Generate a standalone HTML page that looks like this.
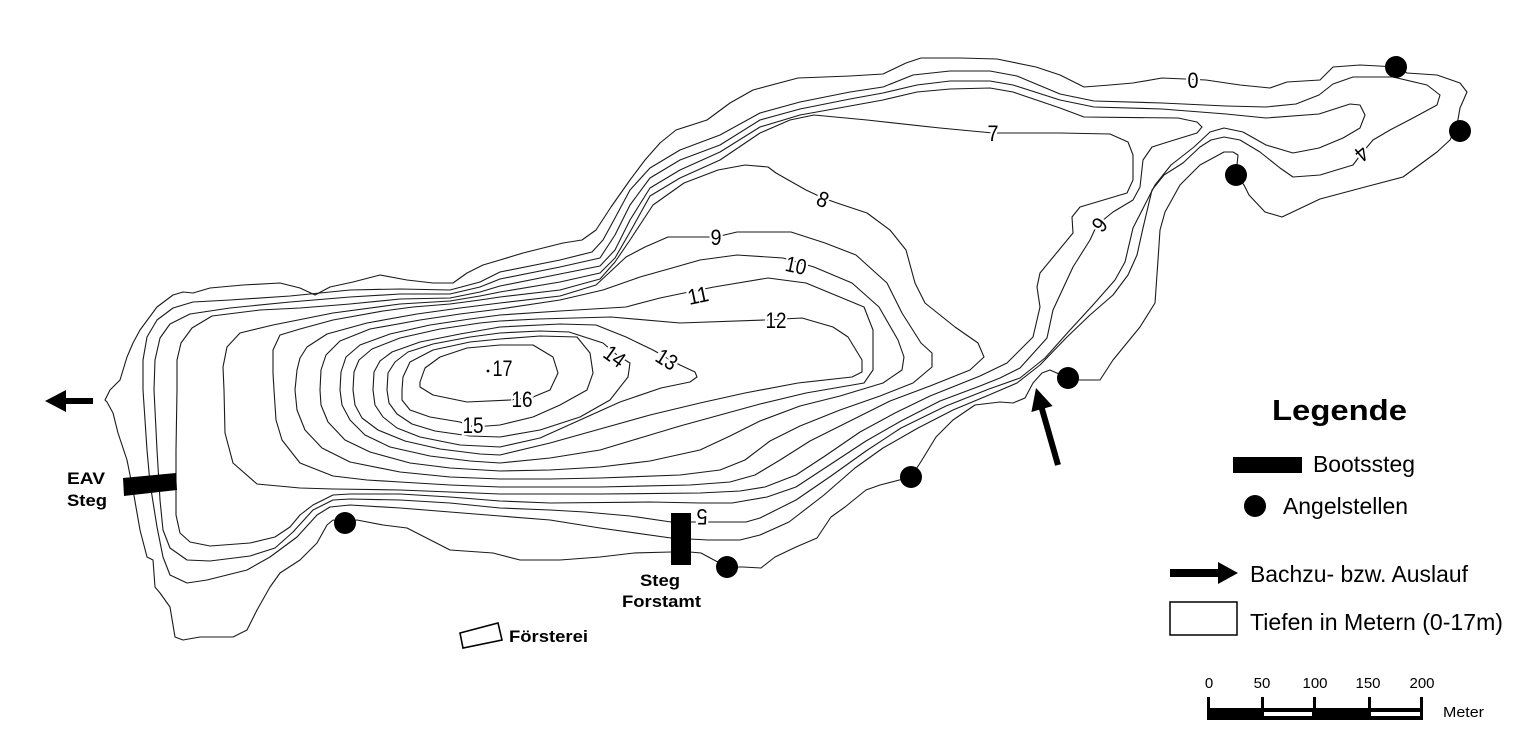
<!DOCTYPE html>
<html><head><meta charset="utf-8"><style>
html,body{margin:0;padding:0;background:#fff;}
svg{display:block;}
.c{fill:none;stroke:#1a1a1a;stroke-width:1.1;stroke-linejoin:round;}
.lb{font-family:"Liberation Sans",sans-serif;font-size:22px;fill:#000;stroke:#fff;stroke-width:5;paint-order:stroke;text-anchor:middle;}
.b{font-family:"Liberation Sans",sans-serif;font-weight:bold;font-size:17px;fill:#000;}
.lg{font-family:"Liberation Sans",sans-serif;font-size:23px;fill:#000;}
.sc{font-family:"Liberation Sans",sans-serif;font-size:15px;fill:#000;text-anchor:middle;}
</style></head><body>
<svg width="1515" height="730" viewBox="0 0 1515 730" xmlns="http://www.w3.org/2000/svg">
<rect width="1515" height="730" fill="#fff"/>
<!-- shore 0 -->
<polygon class="c" points="105,400 110,390 120,380 127,357 133,343 140,330 157,307 173,295 183,292 193,293 210,288 243,285 280,283 300,288 315,295 330,287 353,282 380,275 407,280 433,283 453,283 467,273 483,265 500,260 523,253 563,243 582,240 596,230 611,207 630,180 645,160 660,143 676,130 707,120 730,103 753,90 798,78 850,76 883,74 906,63 921,58 960,58 997,59 1036,67 1060,75 1084,87 1110,85 1133,83 1162,78 1185,79 1206,80 1240,85 1270,88 1287,82 1320,80 1333,67 1360,65 1397,67 1407,73 1437,75 1460,83 1467,92 1460,108 1457,125 1450,140 1437,152 1403,177 1365,187 1320,199 1282,217 1265,212 1249,195 1244,185 1236,175 1238,155 1233,152 1224,152 1200,165 1180,185 1165,212 1160,230 1158,260 1155,303 1140,327 1113,360 1100,380 1080,380 1068,378 1050,370 1042,373 1033,383 1025,398 1013,403 1000,402 975,405 953,420 936,437 922,460 911,477 880,485 866,490 845,507 831,517 817,538 796,547 775,557 761,568 743,567 727,567 701,553 690,552 671,552 634,553 600,557 560,560 520,560 493,553 450,550 407,528 383,525 357,520 345,522 333,520 327,525 317,543 300,560 280,573 270,587 257,610 247,630 233,637 200,637 183,640 175,637 170,607 160,593 155,587 153,560 147,557 140,530 133,490 127,460 118,433 113,413 107,402"/>
<!-- C4 -->
<polygon class="c" points="143,390 143,360 147,337 157,320 173,308 193,302 230,300 290,296 350,290 400,289 450,290 480,282 500,272 560,260 592,252 603,240 615,218 630,190 650,168 680,150 720,135 760,113 800,102 850,92 883,87 913,75 950,71 990,71 1017,76 1060,94 1094,101 1162,103 1226,106 1266,107 1296,104 1319,95 1333,84 1353,77 1393,77 1427,85 1440,95 1437,105 1413,118 1390,130 1373,140 1362,153 1353,165 1320,175 1293,177 1280,168 1260,152 1240,140 1224,137 1211,140 1200,147 1183,163 1164,175 1152,190 1143,228 1137,255 1128,275 1113,295 1090,315 1067,337 1040,365 1017,383 989,395 953,410 918,428 883,448 855,468 824,495 789,522 760,535 740,540 708,540 671,538 600,528 550,520 500,516 450,512 400,508 350,505 330,507 317,515 297,537 270,557 247,570 207,580 187,583 170,575 163,557 157,527 150,483 147,450"/>
<!-- C5 -->
<polygon class="c" points="154,390 155,360 160,338 170,324 190,314 230,308 290,302 350,297 400,294 450,294 480,287 500,279 560,267 600,258 615,235 630,205 650,178 680,160 720,145 760,120 800,109 850,99 883,93 917,85 950,81 990,81 1013,85 1060,100 1094,107 1162,109 1226,114 1266,118 1319,114 1350,104 1360,105 1365,115 1360,128 1343,138 1319,148 1293,153 1266,145 1243,132 1224,128 1210,132 1194,147 1171,165 1155,185 1133,228 1125,262 1115,280 1093,305 1070,330 1045,358 1020,378 989,389 946,406 901,428 866,451 831,476 796,500 760,518 746,522 715,522 671,522 630,516 585,512 550,510 500,508 450,503 400,500 350,499 333,500 313,510 293,532 275,548 250,556 210,561 187,560 170,548 163,530 160,500 157,450"/>
<!-- C6 -->
<polygon class="c" points="177,390 177,360 181,343 192,328 212,316 260,310 300,308 350,304 400,299 450,298 480,292 500,286 560,274 600,266 615,250 630,220 650,188 680,170 720,152 760,127 800,115 850,106 883,100 917,92 950,89 990,88 1013,92 1060,108 1084,117 1178,118 1197,122 1202,127 1197,133 1171,141 1152,147 1143,160 1140,187 1133,200 1113,212 1097,225 1090,240 1073,267 1053,310 1047,338 1020,368 1000,378 980,386 940,401 901,421 866,441 831,464 796,487 767,497 732,503 700,503 650,502 550,503 500,501 450,497 400,494 350,494 333,495 313,505 300,515 290,527 275,537 250,543 210,546 190,542 180,533 176,515 176,450"/>
<!-- C7 -->
<polygon class="c" points="224,390 223,367 227,347 240,333 273,325 333,313 400,304 450,301 480,296 500,292 560,282 600,273 615,258 630,232 650,196 680,178 720,160 760,133 790,120 814,115 867,120 940,128 993,133 1060,133 1110,134 1128,142 1133,155 1133,180 1127,193 1080,207 1072,217 1073,233 1040,273 1037,287 1040,307 1033,337 1007,363 980,376 930,396 895,413 860,432 825,456 796,475 765,487 740,491 700,493 600,494 500,494 450,492 400,490 333,489 300,488 257,484 233,463 225,433"/>
<!-- C8 -->
<polygon class="c" points="274,390 273,373 273,350 280,335 300,329 333,320 383,311 413,307 450,304 480,300 500,297 560,290 600,279 615,262 630,240 653,205 684,183 718,170 745,165 768,167 776,173 806,190 823,198 837,203 867,213 890,230 906,250 915,283 925,303 955,327 978,343 984,357 970,370 930,386 890,401 850,421 810,441 780,460 755,475 730,482 690,485 600,487 500,487 450,485 400,482 367,480 333,476 300,463 282,440 276,420"/>
<!-- C9 -->
<polygon class="c" points="295,390 297,370 300,358 307,347 327,334 367,323 417,314 460,308 500,303 560,296 596,285 610,272 626,257 645,247 668,237 716,237 737,232 791,232 825,243 856,255 887,283 902,313 921,343 932,353 932,367 913,383 880,396 840,410 800,426 770,441 745,460 720,470 680,475 600,478 550,479 500,479 450,477 400,472 350,462 322,448 305,430 297,410"/>
<!-- C10 -->
<polygon class="c" points="320,390 321,370 326,355 340,341 370,329 420,320 460,314 500,309 560,300 603,290 640,277 672,268 700,260 737,255 783,258 814,267 852,283 879,307 898,340 904,357 902,370 883,383 840,396 800,406 760,421 730,436 700,450 650,461 600,467 550,470 500,471 450,468 410,463 370,452 345,440 328,422 321,405"/>
<!-- C11 -->
<polygon class="c" points="340,390 341,372 346,357 360,345 390,334 430,325 470,319 500,315 560,311 626,307 660,298 684,293 714,287 768,278 806,283 864,307 873,330 873,370 864,383 806,393 760,404 720,415 680,426 640,438 600,450 550,458 500,463 470,461 430,456 390,447 365,435 350,420 342,405"/>
<!-- C12 -->
<polygon class="c" points="353,390 354,372 359,360 372,349 400,338 440,329 480,323 500,321 538,319 611,317 680,323 764,320 802,318 833,327 848,337 862,360 862,372 852,377 798,383 745,393 700,403 650,415 600,429 550,443 500,455 480,454 440,449 405,441 378,430 362,418 355,405"/>
<!-- C13 -->
<polygon class="c" points="373,390 374,372 380,361 392,352 420,342 460,334 500,327 560,324 596,325 626,337 653,350 667,358 680,365 695,372 697,377 690,382 661,388 620,402 580,420 540,438 500,447 460,445 420,437 397,428 383,417 375,405"/>
<!-- C14 -->
<polygon class="c" points="387,390 388,373 395,362 408,352 433,344 470,337 500,333 540,331 569,332 603,343 617,355 630,363 628,377 610,400 580,417 540,430 500,437 470,436 435,431 412,424 397,414 389,403"/>
<!-- C15 -->
<polygon class="c" points="402,390 403,377 410,362 433,350 470,342 500,339 540,336 577,337 590,353 593,373 587,390 560,405 533,417 500,425 474,427 460,422 430,417 410,410 402,400"/>
<!-- C16 -->
<polygon class="c" points="420,382 425,368 440,357 467,348 500,345 533,345 553,357 558,373 550,390 533,397 510,400 467,402 433,395 420,387"/>

<!-- contour labels -->
<text class="lb" x="1193" y="88" textLength="11" lengthAdjust="spacingAndGlyphs">0</text>
<text class="lb" x="993" y="141" textLength="11" lengthAdjust="spacingAndGlyphs">7</text>
<text class="lb" transform="translate(823,199) rotate(22)" x="0" y="8" textLength="11" lengthAdjust="spacingAndGlyphs">8</text>
<text class="lb" x="716" y="245" textLength="11" lengthAdjust="spacingAndGlyphs">9</text>
<text class="lb" transform="translate(796,265) rotate(12)" x="0" y="8" textLength="21" lengthAdjust="spacingAndGlyphs">10</text>
<text class="lb" transform="translate(698,295) rotate(-12)" x="0" y="8" textLength="21" lengthAdjust="spacingAndGlyphs">11</text>
<text class="lb" x="776" y="328" textLength="21" lengthAdjust="spacingAndGlyphs">12</text>
<text class="lb" transform="translate(667,359) rotate(32)" x="0" y="8" textLength="21" lengthAdjust="spacingAndGlyphs">13</text>
<text class="lb" transform="translate(615,356) rotate(36)" x="0" y="8" textLength="21" lengthAdjust="spacingAndGlyphs">14</text>
<text class="lb" x="473" y="433" textLength="21" lengthAdjust="spacingAndGlyphs">15</text>
<text class="lb" x="522" y="407" textLength="21" lengthAdjust="spacingAndGlyphs">16</text>
<circle cx="488" cy="371" r="1.4" fill="#000"/>
<text class="lb" x="502.5" y="376" textLength="20" lengthAdjust="spacingAndGlyphs">17</text>
<text class="lb" transform="translate(702,517) rotate(180)" x="0" y="8" textLength="11" lengthAdjust="spacingAndGlyphs">5</text>
<text class="lb" transform="translate(1100,225) rotate(130)" x="0" y="8" textLength="11" lengthAdjust="spacingAndGlyphs">6</text>
<text class="lb" transform="translate(1362,154) rotate(140)" x="0" y="8" textLength="11" lengthAdjust="spacingAndGlyphs">4</text>

<!-- fishing spots -->
<g fill="#000">
<circle cx="345" cy="523" r="11"/>
<circle cx="727" cy="567" r="11"/>
<circle cx="911" cy="477" r="11"/>
<circle cx="1068" cy="378" r="11"/>
<circle cx="1236" cy="175" r="11"/>
<circle cx="1396" cy="67" r="11"/>
<circle cx="1460" cy="131" r="11"/>
</g>

<!-- piers -->
<polygon points="123,478 176,473 177,490 124,496" fill="#000"/>
<rect x="671" y="513" width="20" height="52" fill="#000"/>
<!-- Försterei building -->
<polygon points="460,633 498,623 502,640 463,648" fill="#fff" stroke="#000" stroke-width="1.6"/>

<!-- arrows -->
<path d="M45,401 L66,390 L66,398 L93,398 L93,404 L66,404 L66,412 Z" fill="#000"/>
<path d="M1036,388 L1052.6,406 L1044.9,408.2 L1060.9,464.2 L1055.1,465.8 L1039.1,409.8 L1031.4,412 Z" fill="#000"/>

<!-- map text -->
<text class="b" x="67" y="484" textLength="38" lengthAdjust="spacingAndGlyphs">EAV</text>
<text class="b" x="67" y="506" textLength="40" lengthAdjust="spacingAndGlyphs">Steg</text>
<text class="b" x="640" y="586" textLength="40" lengthAdjust="spacingAndGlyphs">Steg</text>
<text class="b" x="622" y="607" textLength="79" lengthAdjust="spacingAndGlyphs">Forstamt</text>
<text class="b" x="509" y="642" textLength="79" lengthAdjust="spacingAndGlyphs">Försterei</text>

<!-- legend -->
<text x="1272" y="420" font-family="Liberation Sans, sans-serif" font-weight="bold" font-size="29" textLength="135" lengthAdjust="spacingAndGlyphs">Legende</text>
<rect x="1233" y="457" width="69" height="16" fill="#000"/>
<text class="lg" x="1313" y="472" textLength="102" lengthAdjust="spacingAndGlyphs">Bootssteg</text>
<circle cx="1255" cy="506" r="11" fill="#000"/>
<text class="lg" x="1283" y="514" textLength="125" lengthAdjust="spacingAndGlyphs">Angelstellen</text>
<path d="M1170,569 L1218,569 L1218,562 L1238,573 L1218,584 L1218,577 L1170,577 Z" fill="#000"/>
<text class="lg" x="1250" y="582" textLength="218" lengthAdjust="spacingAndGlyphs">Bachzu- bzw. Auslauf</text>
<rect x="1170" y="602" width="67" height="33" fill="#fff" stroke="#000" stroke-width="1.5"/>
<text class="lg" x="1250" y="630" textLength="253" lengthAdjust="spacingAndGlyphs">Tiefen in Metern (0-17m)</text>

<!-- scale bar -->
<text class="sc" x="1209" y="688">0</text>
<text class="sc" x="1262" y="688">50</text>
<text class="sc" x="1315" y="688">100</text>
<text class="sc" x="1368" y="688">150</text>
<text class="sc" x="1422" y="688">200</text>
<rect x="1207" y="708" width="216" height="12" fill="#000"/>
<rect x="1264" y="712" width="48" height="4" fill="#fff"/>
<rect x="1371" y="712" width="49" height="4" fill="#fff"/>
<g fill="#000">
<rect x="1207" y="697" width="3" height="23"/>
<rect x="1261" y="697" width="3" height="23"/>
<rect x="1313" y="697" width="3" height="23"/>
<rect x="1368" y="697" width="3" height="23"/>
<rect x="1420" y="697" width="3" height="23"/>
</g>
<text x="1443" y="717" font-family="Liberation Sans, sans-serif" font-size="15" textLength="41" lengthAdjust="spacingAndGlyphs">Meter</text>
</svg>
</body></html>
